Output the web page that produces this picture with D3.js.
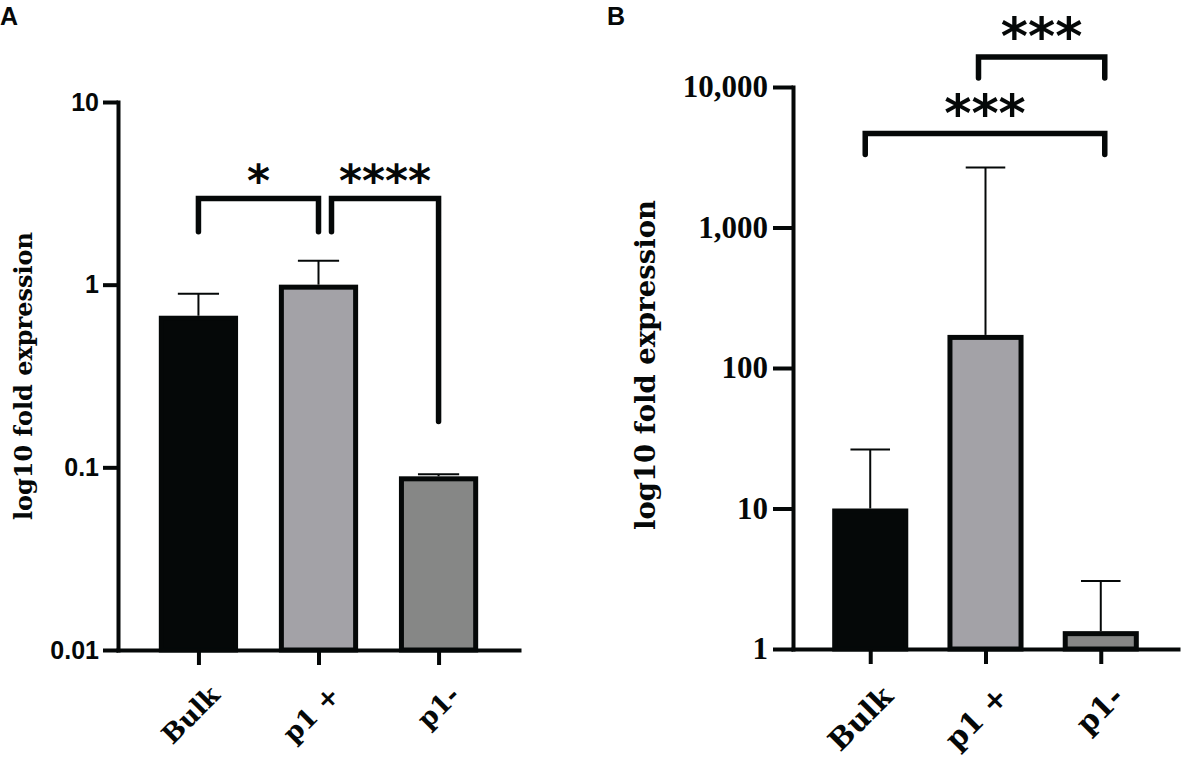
<!DOCTYPE html>
<html>
<head>
<meta charset="utf-8">
<script src="https://cdn.jsdelivr.net/npm/d3@7/dist/d3.min.js"></script>
<style>
  html, body { margin: 0; padding: 0; background: #fff; }
  svg { display: block; }
</style>
</head>
<body>
<svg id="chart" width="1181" height="757"></svg>
<script>
// ---------------- DATA ----------------
const categories = ["Bulk", "p1 +", "p1-"];

// Panel A: mean fold expression and upper end of error bar
const meanA = [0.676, 1.0, 0.0893];
const errTopA = [0.893, 1.353, 0.0916];
const tickValuesA = [0.01, 0.1, 1, 10];
const tickLabelsA = ["0.01", "0.1", "1", "10"];

// Panel B
const meanB = [10.0, 172, 1.34];
const errTopB = [26.3, 2670, 3.05];
const tickValuesB = [1, 10, 100, 1000, 10000];
const tickLabelsB = ["1", "10", "100", "1,000", "10,000"];

// Significance brackets (values in data units)
const bracketFromA = [0, 1];
const bracketToA = [1, 2];
const bracketLevelA = [2.96, 2.96];
const bracketLeftEndA = [1.95, 1.95];
const bracketRightEndA = [1.95, 0.178];
const bracketLabelA = ["*", "****"];

const bracketFromB = [0, 1];
const bracketToB = [2, 2];
const bracketLevelB = [4670, 16350];
const bracketLeftEndB = [3311, 11590];
const bracketRightEndB = [3311, 11590];
const bracketLabelB = ["***", "***"];

const barColors = ["#050808", "#a3a2a7", "#868786"];

// ---------------- LAYOUT ----------------
const svg = d3.select("#chart");

const panels = [
  {
    letter: "A", letterX: 0,
    xRange: [118, 519], yRange: [650, 102], domain: [0.01, 10],
    mean: meanA, errTop: errTopA, ticks: tickValuesA, tickLabels: tickLabelsA,
    tickFont: "'Liberation Sans', Arial, sans-serif", tickSize: 25, yTickLen: 15, tickPad: 4,
    title: "log10 fold expression", titleX: 32, titleSize: 24,
    catSize: 26, catDX: 9, catY: 683,
    brackets: bracketFromA.map((f, i) => ({from: f, to: bracketToA[i], level: bracketLevelA[i],
      leftEnd: bracketLeftEndA[i], rightEnd: bracketRightEndA[i], label: bracketLabelA[i]})),
    bracketNudge: [[0, 0], [13, 0]],
    starSize: 44, starGap: 25
  },
  {
    letter: "B", letterX: 607,
    xRange: [793, 1178], yRange: [649, 87], domain: [1, 10000],
    mean: meanB, errTop: errTopB, ticks: tickValuesB, tickLabels: tickLabelsB,
    tickFont: "'Liberation Serif', 'Times New Roman', serif", tickSize: 31, yTickLen: 20, tickPad: 5,
    title: "log10 fold expression", titleX: 655, titleSize: 27.5,
    catSize: 29, catDX: 9, catY: 683,
    brackets: bracketFromB.map((f, i) => ({from: f, to: bracketToB[i], level: bracketLevelB[i],
      leftEnd: bracketLeftEndB[i], rightEnd: bracketRightEndB[i], label: bracketLabelB[i]})),
    bracketNudge: [[-5, 4], [-7, 4]],
    starSize: 52, starGap: 29
  }
];

const serif = "'DejaVu Serif', serif";

panels.forEach(p => {
  const g = svg.append("g");
  const x = d3.scalePoint().domain(categories).range(p.xRange).padding(0.67);
  const y = d3.scaleLog().domain(p.domain).range(p.yRange);
  const step = x.step();
  const barW = step * 0.66;
  const sw = 5;
  const base = p.yRange[0];

  // bars
  g.selectAll("rect.bar").data(categories).join("rect")
    .attr("class", "bar")
    .attr("x", d => x(d) - barW / 2 + sw / 2)
    .attr("width", barW - sw)
    .attr("y", (d, i) => y(p.mean[i]) + sw / 2)
    .attr("height", (d, i) => base - y(p.mean[i]) - sw / 2)
    .attr("fill", (d, i) => barColors[i])
    .attr("stroke", "#050808")
    .attr("stroke-width", sw);

  // error bars
  const capW = barW * 0.52;
  const eb = g.selectAll("g.err").data(categories).join("g").attr("class", "err");
  eb.append("line")
    .attr("x1", d => x(d)).attr("x2", d => x(d))
    .attr("y1", (d, i) => y(p.mean[i]))
    .attr("y2", (d, i) => y(p.errTop[i]))
    .attr("stroke", "#050808").attr("stroke-width", 2);
  eb.append("line")
    .attr("x1", d => x(d) - capW / 2).attr("x2", d => x(d) + capW / 2)
    .attr("y1", (d, i) => y(p.errTop[i]))
    .attr("y2", (d, i) => y(p.errTop[i]))
    .attr("stroke", "#050808").attr("stroke-width", 2);

  // y axis
  const yAxis = d3.axisLeft(y)
    .tickValues(p.ticks)
    .tickFormat((d, i) => p.tickLabels[i])
    .tickSize(p.yTickLen).tickSizeOuter(0).tickPadding(p.tickPad);
  const ya = g.append("g").attr("transform", `translate(${p.xRange[0]},0)`).call(yAxis);
  ya.select(".domain").attr("stroke", "#050808").attr("stroke-width", 4).attr("stroke-linecap", "square");
  ya.selectAll(".tick line").attr("stroke", "#050808").attr("stroke-width", 4);
  ya.selectAll(".tick text")
    .attr("font-family", p.tickFont).attr("font-weight", "bold")
    .attr("font-size", p.tickSize).attr("fill", "#050808");

  // x axis
  const xAxis = d3.axisBottom(x).tickSize(15).tickSizeOuter(0).tickFormat("");
  const xa = g.append("g").attr("transform", `translate(0,${base})`).call(xAxis);
  xa.select(".domain").attr("stroke", "#050808").attr("stroke-width", 4).attr("stroke-linecap", "square");
  xa.selectAll(".tick line").attr("stroke", "#050808").attr("stroke-width", 4);

  // category labels
  g.selectAll("text.cat").data(categories).join("text")
    .attr("class", "cat")
    .attr("transform", d => `translate(${x(d) + p.catDX},${p.catY}) rotate(-45)`)
    .attr("text-anchor", "end")
    .attr("dy", "0.75em")
    .attr("font-family", serif).attr("font-weight", "bold")
    .attr("font-size", p.catSize).attr("fill", "#050808")
    .text(d => d);

  // y title
  g.append("text")
    .attr("transform", `translate(${p.titleX},${(p.yRange[0] + p.yRange[1]) / 2 + (p.letter === "A" ? 0 : -3)}) rotate(-90)`)
    .attr("text-anchor", "middle")
    .attr("font-family", serif).attr("font-weight", "bold")
    .attr("font-size", p.titleSize).attr("fill", "#050808")
    .text(p.title);

  // panel letter
  svg.append("text")
    .attr("x", p.letterX).attr("y", 25)
    .attr("font-family", "'Liberation Sans', Arial, sans-serif").attr("font-weight", "bold")
    .attr("font-size", 25).attr("fill", "#050808")
    .text(p.letter);

  // brackets
  p.brackets.forEach((b, i) => {
    const x1 = x(categories[b.from]) + p.bracketNudge[i][0];
    const x2 = x(categories[b.to]) + p.bracketNudge[i][1];
    const yl = y(b.level);
    const path = d3.path();
    path.moveTo(x1, y(b.leftEnd));
    path.lineTo(x1, yl);
    path.lineTo(x2, yl);
    path.lineTo(x2, y(b.rightEnd));
    g.append("path").attr("d", path.toString())
      .attr("fill", "none").attr("stroke", "#050808").attr("stroke-width", 5.5)
      .attr("stroke-linecap", "round").attr("stroke-linejoin", "miter");
    const st = g.append("text")
      .attr("x", (x1 + x2) / 2)
      .attr("y", yl - p.starGap)
      .attr("text-anchor", "middle")
      .attr("font-family", "'DejaVu Sans', sans-serif").attr("font-weight", "bold")
      .attr("font-size", p.starSize).attr("fill", "#050808")
      .text(b.label);
    // center the asterisk glyphs vertically on the target line
    const bb = st.node().getBBox();
    const target = yl - p.starGap;
    const glyphCenter = bb.y + bb.height * 0.36;
    st.attr("y", target + (target - glyphCenter));
  });
});
</script>
</body>
</html>
